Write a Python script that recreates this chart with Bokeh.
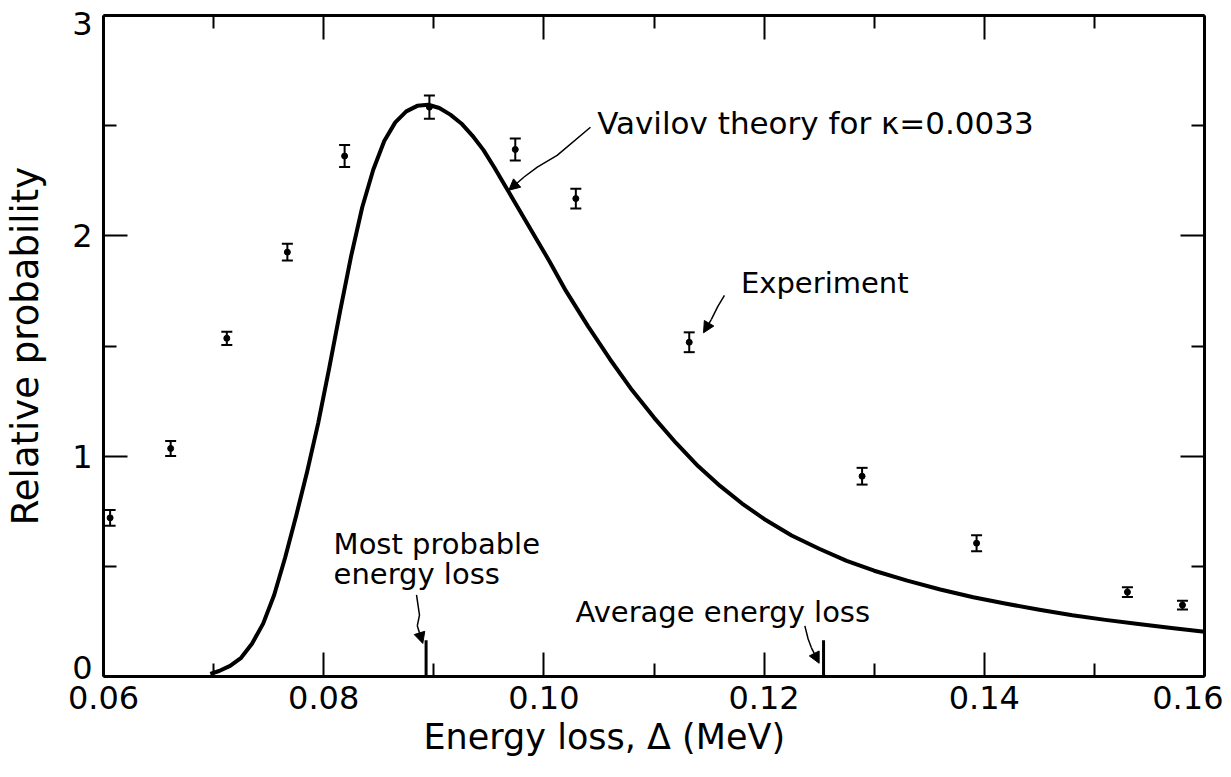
from bokeh.plotting import figure
from bokeh.models import (Range1d, FixedTicker, LinearAxis, ColumnDataSource, Whisker,
                          TeeHead, Arrow, NormalHead, Title)
from bokeh.core.properties import value
from bokeh.embed import file_html
from bokeh.resources import INLINE

FONT = "DejaVu Sans"

# ---------------- data ----------------
x_ticks = [0.06, 0.08, 0.10, 0.12, 0.14, 0.16]
x_tick_labels = ["0.06", "0.08", "0.10", "0.12", "0.14", "0.16"]
x_minor = [0.07, 0.09, 0.11, 0.13, 0.15]
y_ticks = [0, 1, 2, 3]
y_tick_labels = ["0", "1", "2", "3"]
y_minor = [0.5, 1.5, 2.5]
x_title = "Energy loss, Δ (MeV)"
y_title = "Relative probability"

# Vavilov theory curve (kappa = 0.0033)
theory_x = [0.0697, 0.0705, 0.0715, 0.0725, 0.0735, 0.0745, 0.0755, 0.0765, 0.0775,
            0.0785, 0.0795, 0.0805, 0.0815, 0.0825, 0.0835, 0.0845, 0.0855, 0.0865,
            0.0875, 0.0885, 0.0895, 0.0905, 0.0915, 0.0925, 0.0935, 0.0945, 0.0955,
            0.0965, 0.0975, 0.0985, 0.0995, 0.1005, 0.1020, 0.1040, 0.1060, 0.1080,
            0.1100, 0.1120, 0.1140, 0.1160, 0.1180, 0.1200, 0.1225, 0.1250, 0.1275,
            0.1300, 0.1330, 0.1360, 0.1390, 0.1420, 0.1450, 0.1480, 0.1510, 0.1540,
            0.1570, 0.1600]
theory_y = [0.012, 0.025, 0.048, 0.085, 0.150, 0.240, 0.370, 0.540, 0.730,
            0.930, 1.150, 1.400, 1.660, 1.910, 2.130, 2.300, 2.430, 2.515,
            2.565, 2.590, 2.595, 2.580, 2.550, 2.510, 2.455, 2.390, 2.310,
            2.225, 2.140, 2.055, 1.970, 1.885, 1.750, 1.590, 1.440, 1.300,
            1.175, 1.060, 0.955, 0.865, 0.785, 0.715, 0.640, 0.580, 0.525,
            0.480, 0.435, 0.395, 0.360, 0.330, 0.303, 0.278, 0.257, 0.238,
            0.220, 0.203]

# Experimental points with error bars
exp_x = [0.0606, 0.0661, 0.0712, 0.0767, 0.0819, 0.0896, 0.0974, 0.1029, 0.1132,
         0.1289, 0.1393, 0.1530, 0.1580]
exp_y = [0.720, 1.035, 1.535, 1.926, 2.362, 2.584, 2.392, 2.169, 1.517,
         0.909, 0.605, 0.383, 0.324]
exp_err = [0.036, 0.034, 0.030, 0.038, 0.050, 0.053, 0.050, 0.045, 0.045,
           0.038, 0.036, 0.022, 0.020]

most_probable = 0.0893
average_loss = 0.1254
marker_height = 0.165

# ---------------- figure ----------------
p = figure(width=1223, height=769, output_backend="svg", toolbar_location=None,
           x_range=Range1d(0.06, 0.16), y_range=Range1d(0, 3),
           min_border_left=103, min_border_right=19, min_border_top=15, min_border_bottom=93,
           background_fill_color="white", border_fill_color="white")
p.grid.visible = False
p.outline_line_color = None


def frame_axis(ax, ticks, minor):
    # the drawn frame with inward ticks, no lettering
    ax.ticker = FixedTicker(ticks=ticks, minor_ticks=minor)
    ax.axis_line_width = 3
    ax.axis_line_color = "black"
    ax.major_tick_in = 24
    ax.major_tick_out = 0
    ax.minor_tick_in = 13
    ax.minor_tick_out = 0
    ax.major_tick_line_width = 2
    ax.minor_tick_line_width = 2
    ax.major_tick_line_color = "black"
    ax.minor_tick_line_color = "black"
    ax.major_label_overrides = {t: "" for t in ticks}
    ax.major_label_text_font_size = "2px"
    ax.major_label_standoff = 0
    ax.axis_label = None


frame_axis(p.xaxis[0], x_ticks, x_minor)
p.xaxis[0].major_label_standoff = 7
frame_axis(p.yaxis[0], y_ticks, y_minor)
top = LinearAxis()
frame_axis(top, x_ticks, x_minor)
p.add_layout(top, "above")
right = LinearAxis()
frame_axis(right, y_ticks, y_minor)
p.add_layout(right, "right")


def letter_axis(ticks, labels, shift, standoff):
    # invisible axis that only carries the hand-placed tick lettering
    pos = [t + shift.get(t, 0) for t in ticks]
    ax = LinearAxis(ticker=FixedTicker(ticks=pos, minor_ticks=[]))
    ax.major_label_overrides = {q: s for q, s in zip(pos, labels)}
    ax.axis_line_color = None
    ax.major_tick_line_color = None
    ax.minor_tick_line_color = None
    ax.major_tick_in = 0
    ax.major_tick_out = 0
    ax.minor_tick_in = 0
    ax.minor_tick_out = 0
    ax.major_label_text_font = FONT
    ax.major_label_text_font_size = "32px"
    ax.major_label_text_color = "black"
    ax.major_label_standoff = standoff
    ax.major_label_orientation = "horizontal"
    return ax


xl = letter_axis(x_ticks, x_tick_labels, {0.16: -0.0015}, 9)
p.add_layout(xl, "below")
yl = letter_axis(y_ticks, y_tick_labels, {3: -0.036, 0: 0.041}, 11)
yl.axis_label = y_title
yl.axis_label_text_font = FONT
yl.axis_label_text_font_size = "37px"
yl.axis_label_text_font_style = "normal"
yl.axis_label_text_color = "black"
yl.axis_label_standoff = 22
p.add_layout(yl, "left")

p.add_layout(Title(text=x_title, align="left", offset=320, standoff=7,
                   text_font=FONT, text_font_size="35px", text_font_style="normal",
                   text_color="black"), "below")

# theory curve
p.line(theory_x, theory_y, line_width=4, line_color="black", line_join="round")

# experimental points
src = ColumnDataSource(dict(x=exp_x, y=exp_y,
                            lo=[v - e for v, e in zip(exp_y, exp_err)],
                            hi=[v + e for v, e in zip(exp_y, exp_err)]))
p.add_layout(Whisker(source=src, base="x", lower="lo", upper="hi", dimension="height",
                     line_width=2, line_color="black",
                     upper_head=TeeHead(size=11, line_width=2, line_color="black"),
                     lower_head=TeeHead(size=11, line_width=2, line_color="black")))
p.scatter("x", "y", source=src, size=6, color="black")

# most probable / average markers
p.segment(x0=[most_probable, average_loss], y0=[0, 0],
          x1=[most_probable, average_loss], y1=[marker_height, marker_height],
          line_width=3, line_color="black")

# annotations
tf = value(FONT)
p.text(x=[0.10484], y=[2.512], text=["Vavilov theory for κ=0.0033"], text_font=tf,
       text_font_size="31px", text_baseline="alphabetic", text_align="left", text_color="black")
p.text(x=[0.1179], y=[1.785], text=["Experiment"], text_font=tf,
       text_font_size="29px", text_baseline="alphabetic", text_align="left", text_color="black")
p.text(x=[0.0809, 0.0809], y=[0.600, 0.463], text=["Most probable", "energy loss"], text_font=tf,
       text_font_size="29px", text_baseline="alphabetic", text_align="left", text_color="black")
p.text(x=[0.10287], y=[0.295], text=["Average energy loss"], text_font=tf,
       text_font_size="29px", text_baseline="alphabetic", text_align="left", text_color="black")

# hand-drawn style pointer arrows
head = dict(size=11, fill_color="black", line_color="black")
p.line([0.10423, 0.1012, 0.0994, 0.0982], [2.493, 2.365, 2.312, 2.267], line_width=1.5, line_color="black")
p.add_layout(Arrow(end=NormalHead(**head), x_start=0.0982, y_start=2.267, x_end=0.09681, y_end=2.207,
                   line_width=1.5, line_color="black"))
p.line([0.1164, 0.1158, 0.1152], [1.73, 1.68, 1.62], line_width=1.5, line_color="black")
p.add_layout(Arrow(end=NormalHead(**head), x_start=0.1152, y_start=1.62, x_end=0.1145, y_end=1.56,
                   line_width=1.5, line_color="black"))
p.line([0.08843, 0.0887, 0.0885], [0.37, 0.279, 0.23], line_width=1.5, line_color="black")
p.add_layout(Arrow(end=NormalHead(**head), x_start=0.0885, y_start=0.23, x_end=0.0890, y_end=0.15,
                   line_width=1.5, line_color="black"))
p.line([0.1237, 0.1240, 0.1243], [0.23, 0.17, 0.13], line_width=1.5, line_color="black")
p.add_layout(Arrow(end=NormalHead(**head), x_start=0.1243, y_start=0.13, x_end=0.1250, y_end=0.06,
                   line_width=1.5, line_color="black"))

open("out.html", "w").write(file_html(p, INLINE))
